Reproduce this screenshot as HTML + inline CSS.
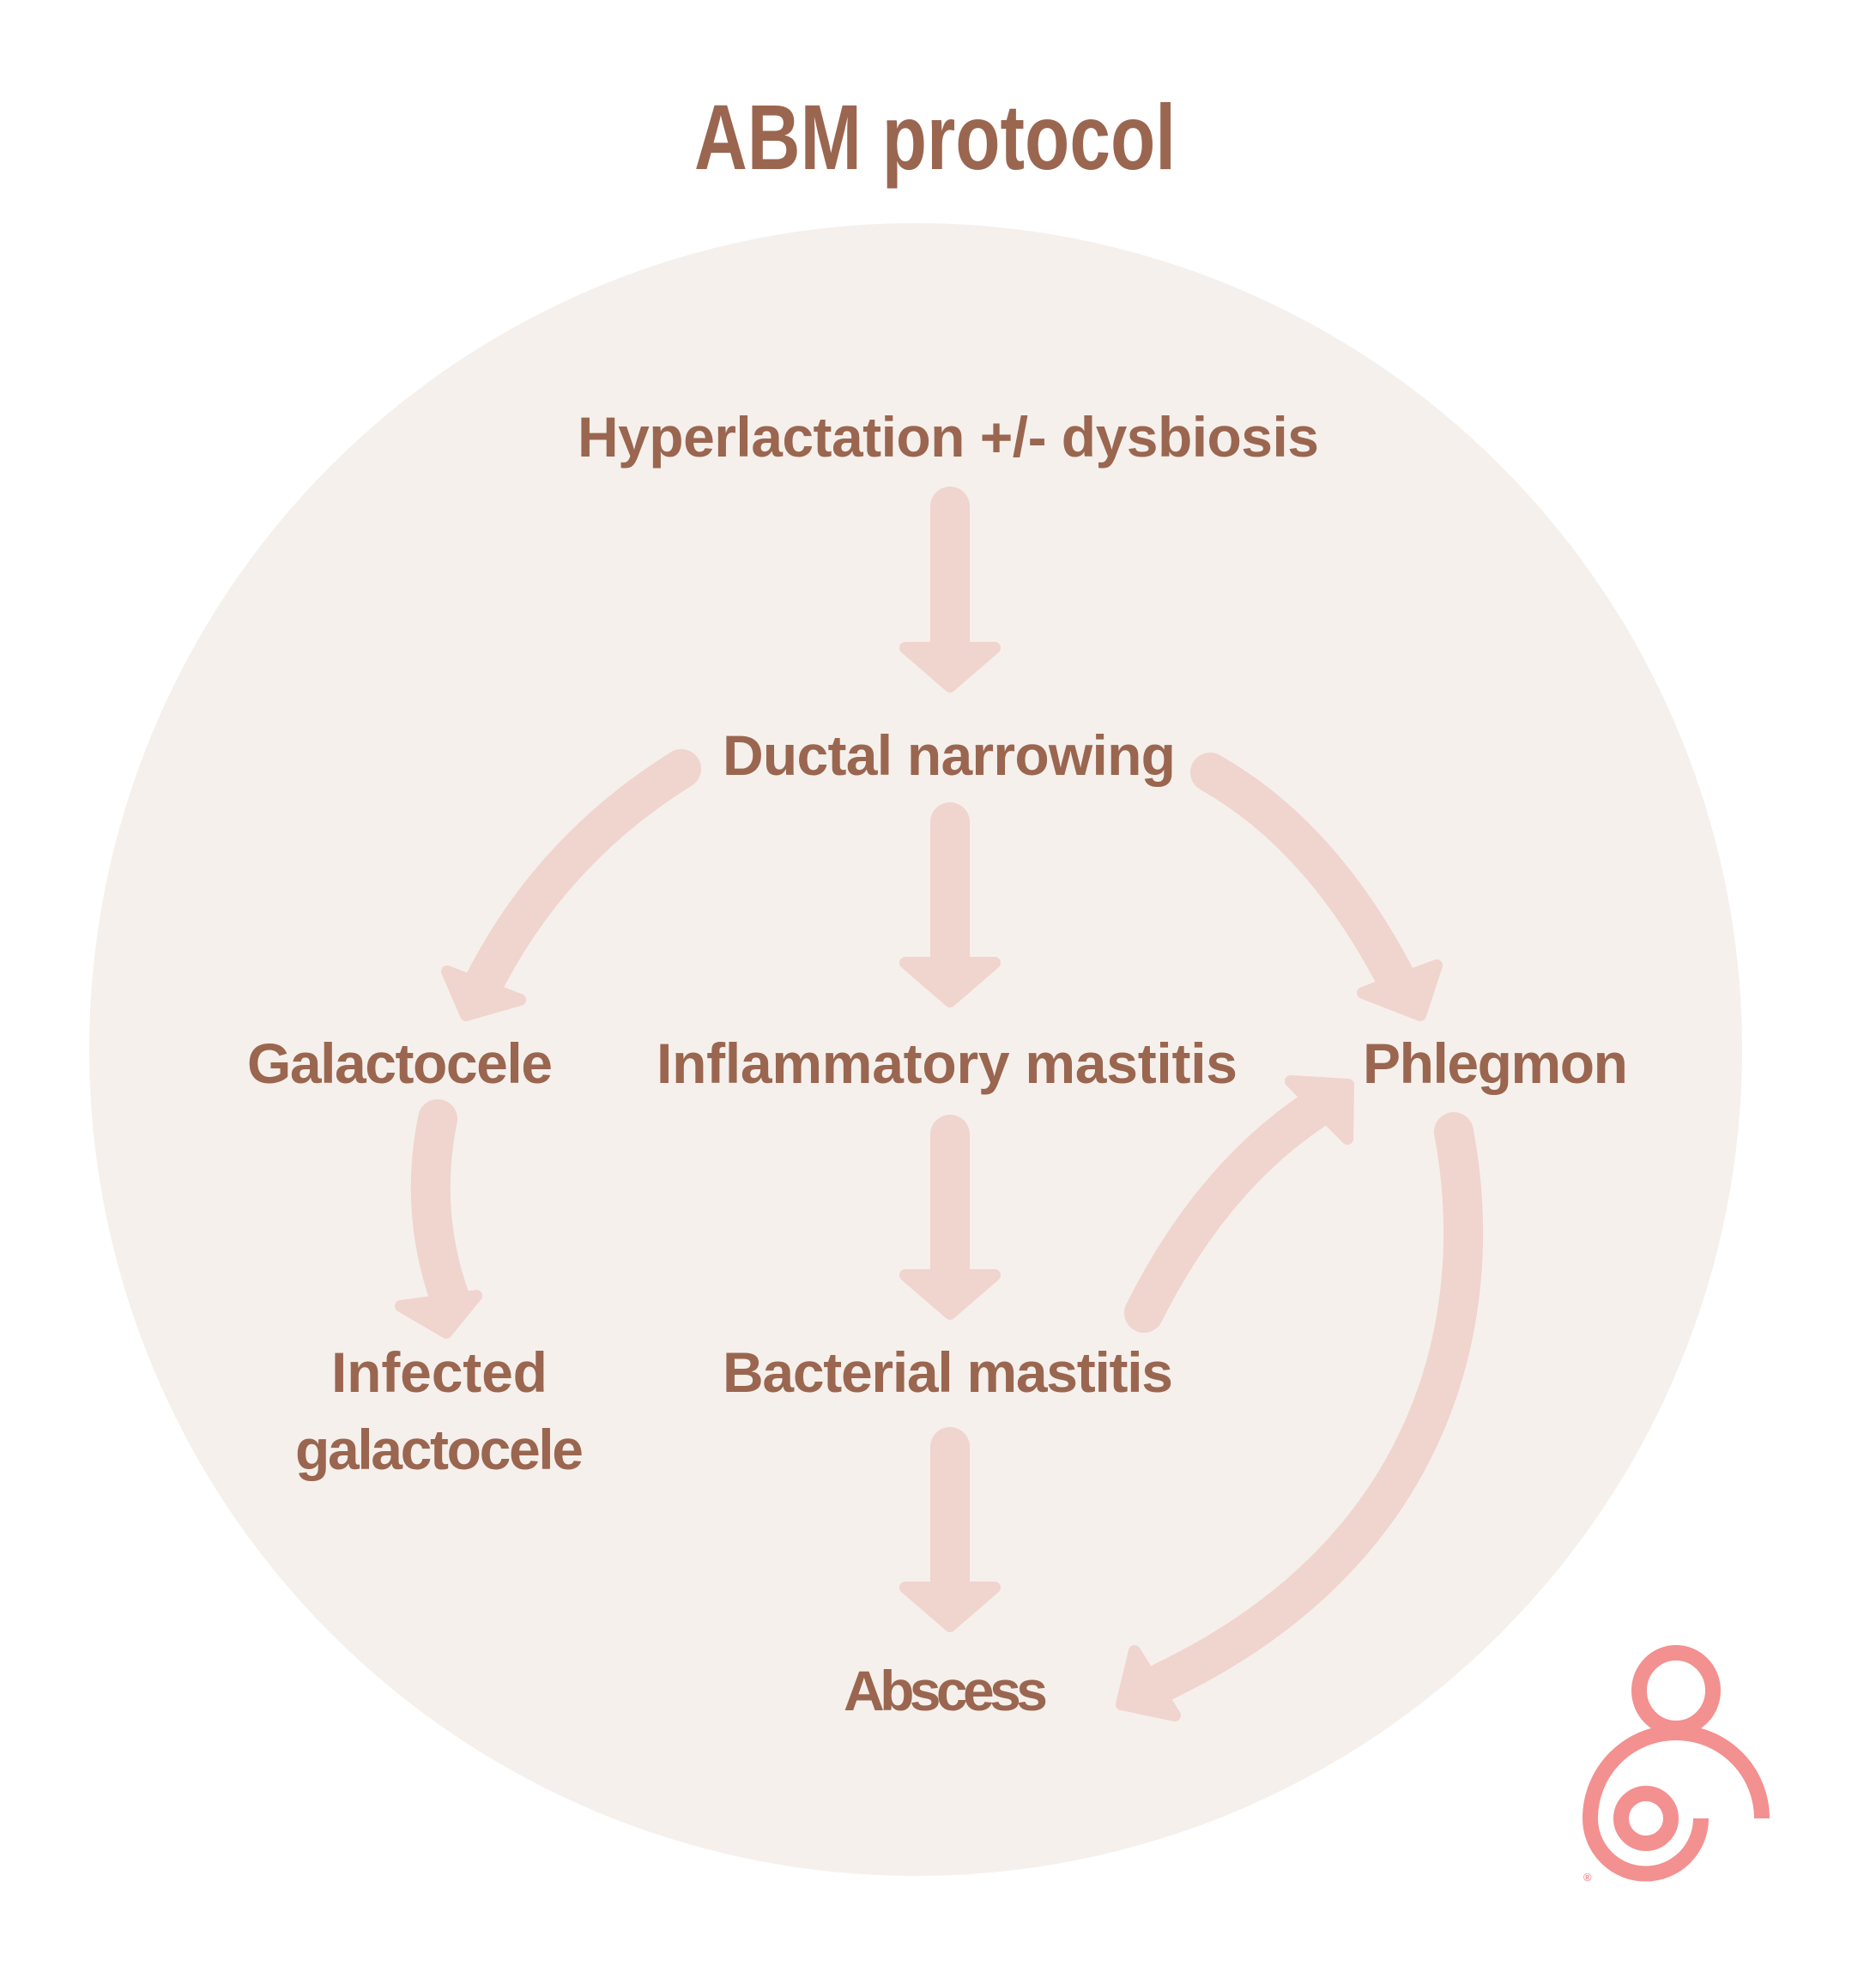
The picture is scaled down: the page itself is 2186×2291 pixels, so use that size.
<!DOCTYPE html>
<html><head><meta charset="utf-8"><style>
html,body{margin:0;padding:0;background:#fff;}
svg{display:block;}
text{font-family:"Liberation Sans",sans-serif;font-weight:bold;fill:#9a6650;}
</style></head><body>
<svg width="2186" height="2291" viewBox="0 0 2186 2291" xmlns="http://www.w3.org/2000/svg">
<circle cx="1067" cy="1223" r="963" fill="#f5f0ec"/>
<text x="809" y="197" font-size="108" textLength="561" lengthAdjust="spacingAndGlyphs">ABM protocol</text>
<g font-size="66" lengthAdjust="spacingAndGlyphs">
<text x="673" y="532" textLength="864">Hyperlactation +/- dysbiosis</text>
<text x="842" y="903" textLength="528">Ductal narrowing</text>
<text x="288" y="1262" textLength="356">Galactocele</text>
<text x="765" y="1262" textLength="677">Inflammatory mastitis</text>
<text x="1588" y="1262" textLength="309">Phlegmon</text>
<text x="386" y="1622" textLength="252">Infected</text>
<text x="344" y="1712" textLength="336">galactocele</text>
<text x="842" y="1622" textLength="525">Bacterial mastitis</text>
<text x="983" y="1993" textLength="238">Abscess</text>
</g>
<g stroke="#f0d4ce" stroke-width="46" stroke-linecap="round" fill="none">
<path d="M1107 590 V760"/>
<path d="M1107 958 V1125"/>
<path d="M1107 1322 V1488"/>
<path d="M1107 1686 V1852"/>
<path d="M794 896 Q641 991 561 1151"/>
<path d="M1410 900 Q1544 976 1632 1151"/>
<path d="M510 1304 Q488 1413 525 1515"/>
<path d="M1333 1530 Q1413 1370 1536 1290"/>
<path d="M1694 1319 C1734 1530 1676 1807 1355 1960"/>
</g>
<g fill="#f0d4ce" stroke="#f0d4ce" stroke-width="14" stroke-linejoin="round">
<polygon points="1055,755 1159,755 1107,800"/>
<polygon points="1055,1122 1159,1122 1107,1167"/>
<polygon points="1055,1486 1159,1486 1107,1531"/>
<polygon points="1055,1850 1159,1850 1107,1895"/>
<polygon points="521,1132 606,1165 543,1183"/>
<polygon points="1588,1157 1674,1125 1655,1183"/>
<polygon points="467,1522 555,1510 520,1553"/>
<polygon points="1504,1260 1570,1327 1571,1264"/>
<polygon points="1322,1924 1369,1999 1307,1986"/>
</g>
<g stroke="#f39090" stroke-width="18" fill="none">
<ellipse cx="1953" cy="1970" rx="43" ry="44"/>
<path d="M2053 2119 A100 100 0 0 0 1853 2119 A64.5 64.5 0 0 0 1982 2119"/>
<circle cx="1918" cy="2119" r="29"/>
</g>
<text x="1845" y="2192" font-size="13" style="fill:#f39090">®</text>
</svg>
</body></html>
